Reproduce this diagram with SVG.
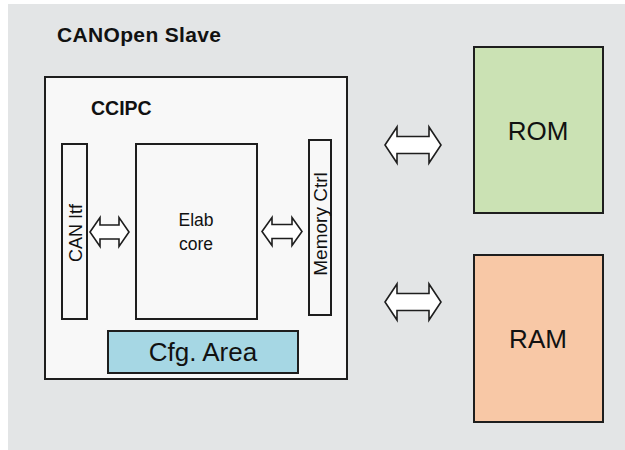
<svg xmlns="http://www.w3.org/2000/svg" width="625" height="450" viewBox="0 0 625 450">
<style>
.box{stroke:#1e1e1e;stroke-width:2}
.arr{fill:#ffffff;stroke:#1e1e1e;stroke-width:1.6;stroke-linejoin:miter}
text{font-family:"Liberation Sans",Arial,sans-serif;fill:#111}
.b{font-weight:bold}
</style>
<rect x="0" y="0" width="625" height="450" fill="#ffffff"/>
<rect x="8" y="4" width="617" height="446" fill="#e3e5e6"/>
<g id="canopen-slave-label">
<text class="b" x="57" y="42" font-size="21" textLength="164">CANOpen Slave</text>
</g>
<g id="ccipc">
<rect class="box" x="45" y="77" width="302" height="302" fill="#f8f8f8"/>
<text class="b" x="91" y="115" font-size="19.5">CCIPC</text>
</g>
<g id="can-itf">
<rect class="box" x="62" y="144" width="25" height="175" fill="#f8f8f8"/>
<text transform="translate(81.5,233) rotate(-90)" text-anchor="middle" font-size="18">CAN Itf</text>
</g>
<g id="elab-core">
<rect class="box" x="136" y="144" width="121" height="175" fill="#f8f8f8"/>
<text x="196" y="226" text-anchor="middle" font-size="17.5">Elab</text>
<text x="196" y="250" text-anchor="middle" font-size="17.5">core</text>
</g>
<g id="memory-ctrl">
<rect class="box" x="309" y="140" width="22" height="175" fill="#f8f8f8"/>
<text transform="translate(327,224) rotate(-90)" text-anchor="middle" font-size="19">Memory Ctrl</text>
</g>
<g id="cfg-area">
<rect class="box" x="108" y="331" width="190" height="42" fill="#a6d7e4"/>
<text x="203" y="361" text-anchor="middle" font-size="26">Cfg. Area</text>
</g>
<g id="rom">
<rect class="box" x="474" y="47" width="129" height="166" fill="#cbe2b4"/>
<text x="538" y="140" text-anchor="middle" font-size="26">ROM</text>
</g>
<g id="ram">
<rect class="box" x="474" y="255" width="129" height="167" fill="#f8c8a6"/>
<text x="538" y="348" text-anchor="middle" font-size="26">RAM</text>
</g>
<g id="connectors">
<polygon class="arr" points="90,232 100,217.5 100,225 119,225 119,217.5 129,232 119,246.5 119,239 100,239 100,246.5"/>
<polygon class="arr" points="262,231.5 272,217.5 272,224.5 292,224.5 292,217.5 302,231.5 292,245.5 292,238.5 272,238.5 272,245.5"/>
<polygon class="arr" points="385,145 397,127 397,136.5 429,136.5 429,127 441,145 429,163 429,153.5 397,153.5 397,163"/>
<polygon class="arr" points="385,302 397,284 397,293.5 429,293.5 429,284 441,302 429,320 429,310.5 397,310.5 397,320"/>
</g>
</svg>
